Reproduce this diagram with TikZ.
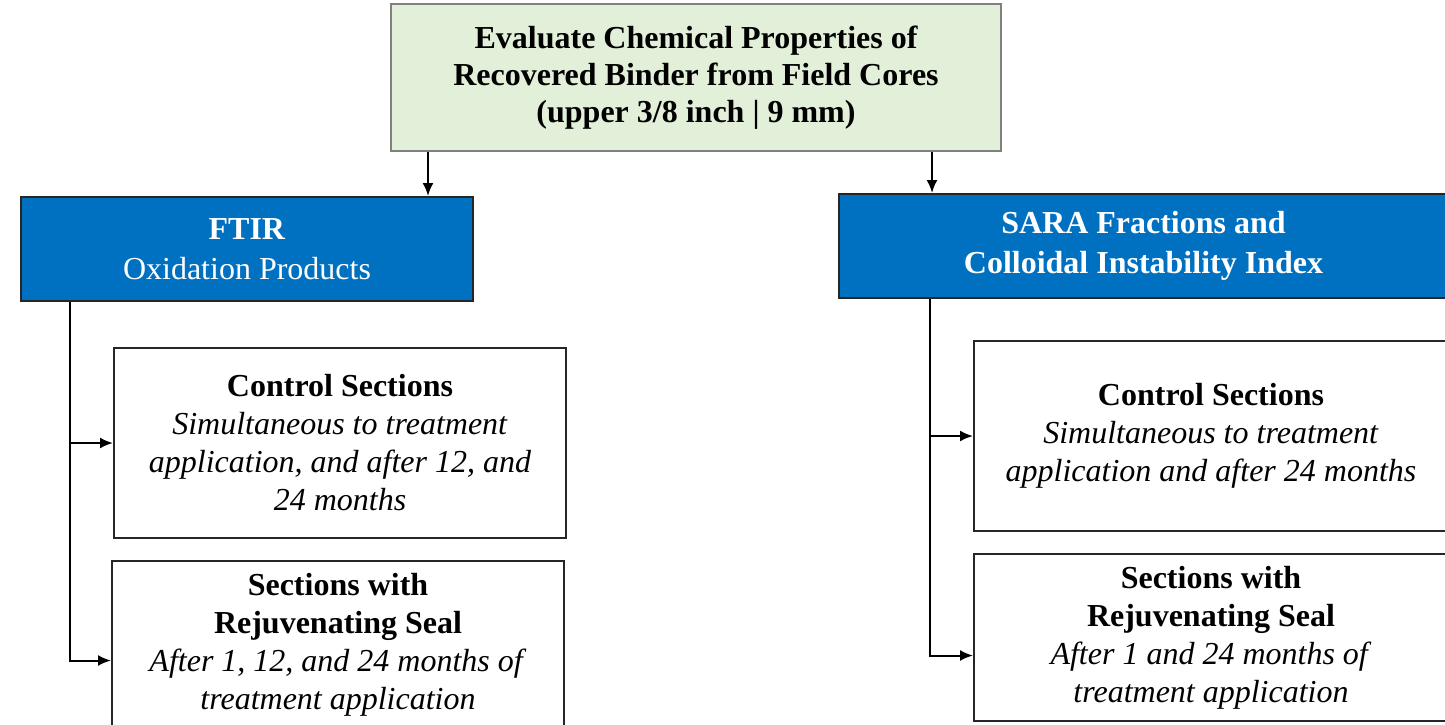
\documentclass[tikz,border=0pt]{standalone}
\usepackage{fontspec}
\setmainfont{Liberation Serif}
\usetikzlibrary{arrows.meta,positioning,calc}
\definecolor{palegreen}{RGB}{226,239,217}
\definecolor{boxblue}{RGB}{0,112,192}
\definecolor{edgegrey}{RGB}{128,128,128}
\definecolor{edgedark}{RGB}{38,38,38}

\begin{document}
\begin{tikzpicture}[x=1pt, y=-1pt,
  every node/.style={font=\fontsize{32}{38}\selectfont, align=center, inner sep=0pt, line width=2pt},
  topbox/.style={draw=edgegrey, fill=palegreen, anchor=north west, font=\fontsize{32}{37}\selectfont\bfseries},
  headbox/.style={draw=edgedark, fill=boxblue, text=white, anchor=north west, font=\fontsize{32}{40}\selectfont},
  subbox/.style={draw=edgedark, fill=white, anchor=north west},
  link/.style={line width=2pt, -{Latex[length=13pt,width=11pt]}}]
  \useasboundingbox (0,0) rectangle (1445,725);
  \clip (0,0) rectangle (1445,725);
  % root box
  \node[topbox, minimum width=610pt, minimum height=147pt] (evaluate) at (390,3)
    {Evaluate Chemical Properties of\\Recovered Binder from Field Cores\\(upper 3/8 inch | 9 mm)};
  % the two test methods
  \node[headbox, minimum width=452pt, minimum height=104pt] (ftir) at (20,196)
    {\textbf{FTIR}\\Oxidation Products};
  \node[headbox, minimum width=609pt, minimum height=104pt] (sara) at (838,193)
    {\textbf{SARA Fractions and}\\\textbf{Colloidal Instability Index}};
  % sections tested by each method
  \node[subbox, minimum width=452pt, minimum height=190pt] (ctrlL) at (113,347)
    {\textbf{Control Sections}\\\textit{Simultaneous to treatment}\\\textit{application, and after 12, and}\\\textit{24 months}};
  \node[subbox, minimum width=452pt, minimum height=167pt] (sealL) at (111,560)
    {\textbf{Sections with}\\\textbf{Rejuvenating Seal}\\\textit{After 1, 12, and 24 months of}\\\textit{treatment application}};
  \node[subbox, minimum width=474pt, minimum height=190pt] (ctrlR) at (973,340)
    {\textbf{Control Sections}\\\textit{Simultaneous to treatment}\\\textit{application and after 24 months}};
  \node[subbox, minimum width=474pt, minimum height=167pt] (sealR) at (973,553)
    {\textbf{Sections with}\\\textbf{Rejuvenating Seal}\\\textit{After 1 and 24 months of}\\\textit{treatment application}};
  % connectors
  \coordinate (dropL) at ([xshift=38pt]evaluate.south west);
  \coordinate (dropR) at ([xshift=-70pt]evaluate.south east);
  \draw[link] (dropL) -- (dropL |- ftir.north);
  \draw[link] (dropR) -- (dropR |- sara.north);
  \coordinate (trunkL) at ([xshift=50pt]ftir.south west);
  \coordinate (trunkR) at ([xshift=92pt]sara.south west);
  \draw[link] (trunkL) |- (ctrlL.west);
  \draw[link] (trunkL) |- ([yshift=-16pt]sealL.west);
  \draw[link] (trunkR) |- (ctrlR.west);
  \draw[link] (trunkR) |- ([yshift=-18pt]sealR.west);
\end{tikzpicture}
\end{document}
